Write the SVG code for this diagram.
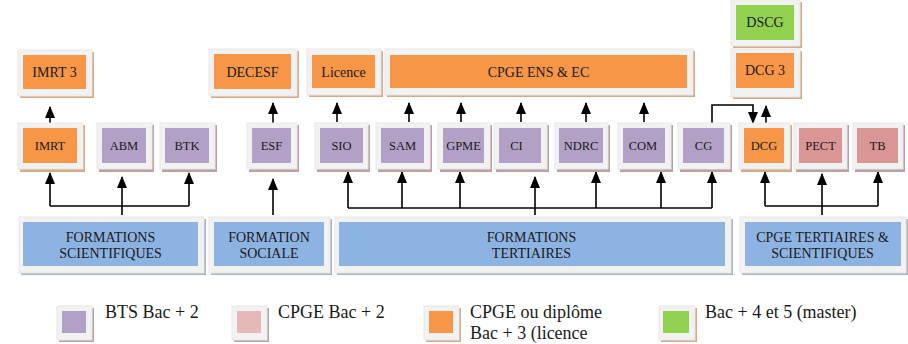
<svg xmlns="http://www.w3.org/2000/svg" width="908" height="344" viewBox="0 0 908 344" font-family="'Liberation Serif', 'Times New Roman', 'DejaVu Serif', serif">
<defs>
<marker id="ah" viewBox="0 0 12 10" refX="11" refY="5" markerWidth="12" markerHeight="10" markerUnits="userSpaceOnUse" orient="auto">
<path d="M0,0 L12,5 L0,10 Z" fill="#000"/>
</marker>
</defs>
<style>
text{font-family:'Liberation Serif','Times New Roman','DejaVu Serif',serif;fill:#1a1a1a;text-anchor:middle}
.fr{fill:#F2F2F2;stroke:#E8E8E8;stroke-width:1}
.so{fill:#D4A986}
.sp{fill:#BBA0A4}
.sb{fill:#A9B3C2}
.or{fill:#F79646}
.pu{fill:#B2A1C7}
.pk{fill:#D99694}
.lp{fill:#E6B9B8}
.bl{fill:#8DB3E2}
.gr{fill:#92D050}
.t14{font-size:14px}
.t12{font-size:12.5px}
.leg{font-size:18px;text-anchor:start}
.c{fill:none;stroke:#000;stroke-width:1.6}
</style>
<g id="connectors">
<path class="c" d="M50,123 V107" marker-end="url(#ah)"/>
<path class="c" d="M273,123 V103" marker-end="url(#ah)"/>
<path class="c" d="M337,122 V103" marker-end="url(#ah)"/>
<path class="c" d="M409,122 V103" marker-end="url(#ah)"/>
<path class="c" d="M461,122 V103" marker-end="url(#ah)"/>
<path class="c" d="M521,122 V103" marker-end="url(#ah)"/>
<path class="c" d="M586,122 V103" marker-end="url(#ah)"/>
<path class="c" d="M644,122 V103" marker-end="url(#ah)"/>
<path class="c" d="M766,123 V106" marker-end="url(#ah)"/>
<path class="c" d="M712,123 V105 H753 V123" marker-end="url(#ah)"/>
<path class="c" d="M50,206 H189"/>
<path class="c" d="M50,206 V173" marker-end="url(#ah)"/>
<path class="c" d="M189,206 V173" marker-end="url(#ah)"/>
<path class="c" d="M122,215 V177" marker-end="url(#ah)"/>
<path class="c" d="M273,215 V179" marker-end="url(#ah)"/>
<path class="c" d="M348,208 H712"/>
<path class="c" d="M348,208 V172" marker-end="url(#ah)"/>
<path class="c" d="M402,208 V172" marker-end="url(#ah)"/>
<path class="c" d="M460,208 V172" marker-end="url(#ah)"/>
<path class="c" d="M535,215 V177" marker-end="url(#ah)"/>
<path class="c" d="M596,208 V172" marker-end="url(#ah)"/>
<path class="c" d="M661,208 V172" marker-end="url(#ah)"/>
<path class="c" d="M712,208 V172" marker-end="url(#ah)"/>
<path class="c" d="M765,206 H878"/>
<path class="c" d="M765,206 V172" marker-end="url(#ah)"/>
<path class="c" d="M878,206 V172" marker-end="url(#ah)"/>
<path class="c" d="M822,215 V174" marker-end="url(#ah)"/>
</g>
<g id="n-imrt3"><rect class="so" x="20" y="52" width="74" height="46"/><rect class="fr" x="18" y="50" width="74" height="46"/><rect class="or" x="23" y="55" width="63" height="34"/><text class="t14" x="54.5" y="77">IMRT 3</text></g>
<g id="n-decesf"><rect class="so" x="211" y="51" width="88" height="47"/><rect class="fr" x="209" y="49" width="88" height="47"/><rect class="or" x="214" y="54" width="77" height="35"/><text class="t14" x="252.5" y="77">DECESF</text></g>
<g id="n-licence"><rect class="so" x="309" y="51" width="74" height="46"/><rect class="fr" x="307" y="49" width="74" height="46"/><rect class="or" x="312" y="55" width="63" height="33"/><text class="t14" x="343.5" y="77">Licence</text></g>
<g id="n-cpgeens"><rect class="so" x="387" y="51" width="308" height="46"/><rect class="fr" x="385" y="49" width="308" height="46"/><rect class="or" x="390" y="55" width="297" height="33"/><text class="t14" x="538.5" y="77">CPGE ENS &amp; EC</text></g>
<g id="n-dscg"><rect class="so" x="733" y="2" width="69" height="46"/><rect class="fr" x="731" y="0" width="69" height="46"/><rect class="gr" x="736" y="5" width="58" height="35"/><text class="t14" x="765" y="27">DSCG</text></g>
<g id="n-dcg3"><rect class="so" x="733" y="51" width="69" height="48"/><rect class="fr" x="731" y="49" width="69" height="48"/><rect class="or" x="736" y="53" width="58" height="35"/><text class="t14" x="765" y="75">DCG 3</text></g>

<g id="n-imrt"><rect class="so" x="20" y="125" width="65" height="47"/><rect class="fr" x="18" y="123" width="65" height="46"/><rect class="or" x="23" y="128" width="54" height="35"/><text class="t12" x="50" y="150">IMRT</text></g>
<g id="n-abm"><rect class="sp" x="99" y="125" width="55" height="47"/><rect class="fr" x="97" y="123" width="55" height="46"/><rect class="pu" x="102" y="128" width="44" height="35"/><text class="t12" x="124" y="150">ABM</text></g>
<g id="n-btk"><rect class="sp" x="162" y="125" width="55" height="47"/><rect class="fr" x="160" y="123" width="55" height="46"/><rect class="pu" x="165" y="128" width="44" height="35"/><text class="t12" x="187" y="150">BTK</text></g>
<g id="n-esf"><rect class="sp" x="249" y="125" width="50" height="47"/><rect class="fr" x="247" y="123" width="50" height="46"/><rect class="pu" x="252" y="128" width="39" height="35"/><text class="t12" x="271.5" y="150">ESF</text></g>
<g id="n-sio"><rect class="sp" x="317" y="125" width="53" height="47"/><rect class="fr" x="315" y="123" width="53" height="46"/><rect class="pu" x="320" y="128" width="43" height="35"/><text class="t12" x="341.5" y="150">SIO</text></g>
<g id="n-sam"><rect class="sp" x="378" y="125" width="54" height="47"/><rect class="fr" x="376" y="123" width="54" height="46"/><rect class="pu" x="381" y="128" width="43" height="35"/><text class="t12" x="402.5" y="150">SAM</text></g>
<g id="n-gpme"><rect class="sp" x="440" y="125" width="52" height="47"/><rect class="fr" x="438" y="123" width="52" height="46"/><rect class="pu" x="443" y="128" width="41" height="35"/><text class="t12" x="463.5" y="150">GPME</text></g>
<g id="n-ci"><rect class="sp" x="496" y="125" width="53" height="47"/><rect class="fr" x="494" y="123" width="53" height="46"/><rect class="pu" x="499" y="128" width="42" height="35"/><text class="t12" x="516.5" y="150">CI</text></g>
<g id="n-ndrc"><rect class="sp" x="557" y="125" width="53" height="47"/><rect class="fr" x="555" y="123" width="53" height="46"/><rect class="pu" x="559" y="128" width="44" height="35"/><text class="t12" x="581" y="150">NDRC</text></g>
<g id="n-com"><rect class="sp" x="620" y="125" width="53" height="47"/><rect class="fr" x="618" y="123" width="53" height="46"/><rect class="pu" x="623" y="128" width="42" height="35"/><text class="t12" x="643" y="150">COM</text></g>
<g id="n-cg"><rect class="sp" x="680" y="125" width="52" height="47"/><rect class="fr" x="678" y="123" width="52" height="46"/><rect class="pu" x="683" y="128" width="41" height="35"/><text class="t12" x="703.5" y="150">CG</text></g>
<g id="n-dcg"><rect class="so" x="741" y="125" width="51" height="47"/><rect class="fr" x="739" y="123" width="51" height="46"/><rect class="or" x="744" y="128" width="40" height="35"/><text class="t12" x="764" y="150">DCG</text></g>
<g id="n-pect"><rect class="sp" x="796" y="125" width="53" height="47"/><rect class="fr" x="794" y="123" width="53" height="46"/><rect class="pk" x="799" y="128" width="43" height="35"/><text class="t12" x="820.5" y="150">PECT</text></g>
<g id="n-tb"><rect class="sp" x="855" y="125" width="50" height="47"/><rect class="fr" x="853" y="123" width="50" height="46"/><rect class="pk" x="857" y="128" width="41" height="35"/><text class="t12" x="877.5" y="150">TB</text></g>

<g id="n-fsci"><rect class="sb" x="21" y="219" width="185" height="56"/><rect class="fr" x="19" y="217" width="185" height="56"/><rect class="bl" x="23" y="222" width="175" height="44"/><text class="t14" x="110.5" y="242">FORMATIONS</text><text class="t14" x="110.5" y="258">SCIENTIFIQUES</text></g>
<g id="n-fsoc"><rect class="sb" x="211" y="219" width="121" height="56"/><rect class="fr" x="209" y="217" width="121" height="56"/><rect class="bl" x="214" y="222" width="110" height="44"/><text class="t14" x="269" y="242">FORMATION</text><text class="t14" x="269" y="258">SOCIALE</text></g>
<g id="n-ftert"><rect class="sb" x="337" y="219" width="396" height="56"/><rect class="fr" x="335" y="217" width="396" height="56"/><rect class="bl" x="339" y="222" width="386" height="44"/><text class="t14" x="531.5" y="242">FORMATIONS</text><text class="t14" x="531.5" y="258">TERTIAIRES</text></g>
<g id="n-fcpge"><rect class="sb" x="742" y="219" width="166" height="56"/><rect class="fr" x="740" y="217" width="166" height="56"/><rect class="bl" x="745" y="222" width="156" height="44"/><text class="t14" x="822.5" y="242">CPGE TERTIAIRES &amp;</text><text class="t14" x="822.5" y="258">SCIENTIFIQUES</text></g>

<g id="legend">
<rect class="sp" x="59" y="308" width="35" height="34"/><rect class="fr" x="57" y="306" width="35" height="34"/><rect class="pu" x="62" y="311" width="24" height="22"/>
<text class="leg" x="105" y="318">BTS Bac + 2</text>
<rect class="sp" x="234" y="308" width="35" height="34"/><rect class="fr" x="232" y="306" width="35" height="34"/><rect class="lp" x="237" y="311" width="24" height="22"/>
<text class="leg" x="278" y="318">CPGE Bac + 2</text>
<rect class="so" x="426" y="308" width="35" height="34"/><rect class="fr" x="424" y="306" width="35" height="34"/><rect class="or" x="429" y="311" width="24" height="22"/>
<text class="leg" x="470" y="318">CPGE ou diplôme</text>
<text class="leg" x="470" y="339">Bac + 3 (licence</text>
<rect class="so" x="661" y="308" width="36" height="34"/><rect class="fr" x="659" y="306" width="36" height="34"/><rect class="gr" x="663" y="311" width="26" height="22"/>
<text class="leg" x="705" y="318">Bac + 4 et 5 (master)</text>
</g>
</svg>
